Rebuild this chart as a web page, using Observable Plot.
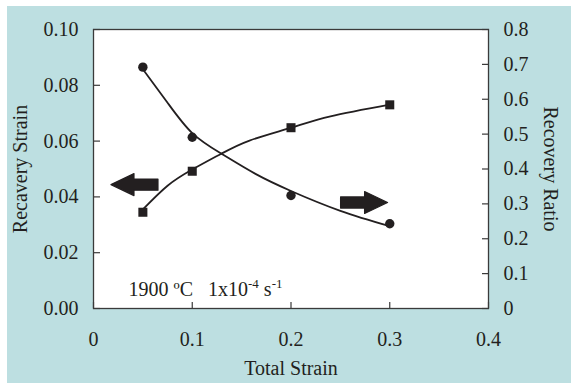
<!DOCTYPE html>
<html><head><meta charset="utf-8">
<script src="https://cdn.jsdelivr.net/npm/d3@7"></script>
<script src="https://cdn.jsdelivr.net/npm/@observablehq/plot@0.6"></script>
<style>
body{margin:0;background:#fff;width:571px;height:385px;overflow:hidden;position:relative;}
#bg{position:absolute;left:7px;top:6px;width:564px;height:377px;background:#bddfe1;}
#chart{position:absolute;left:0;top:0;}
#chart svg, #chart svg text{font-family:"Liberation Serif","Times New Roman",serif !important;font-size:20px;}
#chart svg tspan.sup{font-size:13px;}
</style></head><body><div id="bg"></div><div id="chart"></div>
<script>
// measured points
const totalStrain = [0.05, 0.1, 0.2, 0.3];
const recoveryStrain = [0.0345, 0.0492, 0.0648, 0.0730];
const recoveryRatio = [0.692, 0.491, 0.324, 0.243];
// trend curves
const fitStrainX = [0.05, 0.075, 0.1, 0.129, 0.158, 0.2, 0.24, 0.3];
const fitStrainY = [0.0355, 0.0440, 0.0498, 0.0554, 0.0602, 0.0648, 0.0689, 0.0731];
const fitRatioX = [0.05, 0.075, 0.1, 0.13, 0.164, 0.2, 0.25, 0.3];
const fitRatioY = [0.686, 0.590, 0.503, 0.443, 0.386, 0.337, 0.280, 0.236];
// ticks
const xTicks = [0, 0.1, 0.2, 0.3, 0.4];
const leftTicks = [0, 0.02, 0.04, 0.06, 0.08, 0.10];
const rightTicks = [0, 0.1, 0.2, 0.3, 0.4, 0.5, 0.6, 0.7, 0.8];
// labels & annotations
const xLabel = "Total Strain";
const leftLabel = "Recavery Strain";
const rightLabel = "Recovery Ratio";
const noteText = "1900 \u00baC   1x10-4 s-1";
const noteX = [0.0354], noteY = [0.0046];
const leftArrowX = [0.0415], leftArrowY = [0.0444];
const rightArrowX = [0.274], rightArrowY = [0.0380];

const ratioScale = 0.1 / 0.8;
const ink = "#231f20";
const axisInk = "#3a3a3a";

const strainPts = totalStrain.map((x, i) => ({x, y: recoveryStrain[i]}));
const ratioPts = totalStrain.map((x, i) => ({x, y: recoveryRatio[i] * ratioScale}));
const strainFit = fitStrainX.map((x, i) => ({x, y: fitStrainY[i]}));
const ratioFit = fitRatioX.map((x, i) => ({x, y: fitRatioY[i] * ratioScale}));
const rightTickPos = rightTicks.map(r => r * ratioScale);

const arrowSymbol = {
  draw(ctx, size) {
    ctx.moveTo(-23.5, -5.6);
    ctx.lineTo(0.5, -5.6);
    ctx.lineTo(0.5, -11);
    ctx.lineTo(23.5, 0);
    ctx.lineTo(0.5, 11);
    ctx.lineTo(0.5, 5.6);
    ctx.lineTo(-23.5, 5.6);
    ctx.closePath();
  }
};

const fmtX = d => d === 0 ? "0" : d3.format(".1f")(d);
const fmtL = d => d3.format(".2f")(d);
const fmtR = d => { const r = Math.round(d / ratioScale * 10) / 10; return r === 0 ? "0" : d3.format(".1f")(r); };

const chart = Plot.plot({
  width: 571, height: 385,
  marginLeft: 93, marginRight: 83, marginTop: 29, marginBottom: 77,
  style: {background: "transparent", fontFamily: "Liberation Serif, serif", fontSize: "20px", color: ink},
  x: {domain: [0, 0.4], label: null},
  y: {domain: [0, 0.1], label: null},
  marks: [
    Plot.frame({fill: "white"}),
    // inward ticks
    Plot.axisX(xTicks, {anchor: "bottom", tickSize: -6, tickFormat: () => "", stroke: axisInk, strokeWidth: 1.2, label: null}),
    Plot.axisY(leftTicks, {anchor: "left", tickSize: -7, tickFormat: () => "", stroke: axisInk, strokeWidth: 1.2, label: null}),
    Plot.axisY(rightTickPos, {anchor: "right", tickSize: -7, tickFormat: () => "", stroke: axisInk, strokeWidth: 1.2, label: null}),
    // tick labels
    Plot.axisX(xTicks, {anchor: "bottom", tickSize: 0, tickPadding: 23, tickFormat: fmtX, fill: ink, label: null}),
    Plot.axisY(leftTicks, {anchor: "left", tickSize: 0, tickPadding: 15, tickFormat: fmtL, fill: ink, label: null}),
    Plot.axisY(rightTickPos, {anchor: "right", tickSize: 0, tickPadding: 15, tickFormat: fmtR, fill: ink, label: null}),
    // axis titles
    Plot.text([xLabel], {text: d => d, frameAnchor: "bottom", dy: 60, textAnchor: "middle", lineAnchor: "middle", fill: ink}),
    Plot.text([leftLabel], {text: d => d, frameAnchor: "left", dx: -73, rotate: -90, textAnchor: "middle", lineAnchor: "middle", fill: ink}),
    Plot.text([rightLabel], {text: d => d, frameAnchor: "right", dx: 62, rotate: 90, textAnchor: "middle", lineAnchor: "middle", fill: ink}),
    // curves
    Plot.line(strainFit, {x: "x", y: "y", curve: "natural", stroke: ink, strokeWidth: 1.8}),
    Plot.line(ratioFit, {x: "x", y: "y", curve: "natural", stroke: ink, strokeWidth: 1.8}),
    // points
    Plot.dot(strainPts, {x: "x", y: "y", symbol: "square", r: 5.1, fill: ink, stroke: "none"}),
    Plot.dot(ratioPts, {x: "x", y: "y", r: 4.7, fill: ink, stroke: "none"}),
    // arrows
    Plot.dot(leftArrowX.map((x, i) => ({x, y: leftArrowY[i]})), {x: "x", y: "y", symbol: arrowSymbol, rotate: 180, fill: ink, stroke: ink, strokeWidth: 1.2, strokeLinejoin: "round"}),
    Plot.dot(rightArrowX.map((x, i) => ({x, y: rightArrowY[i]})), {x: "x", y: "y", symbol: arrowSymbol, rotate: 0, fill: ink, stroke: ink, strokeWidth: 1.2, strokeLinejoin: "round"}),
    // annotation
    Plot.text(noteX.map((x, i) => ({x, y: noteY[i]})), {x: "x", y: "y", text: () => noteText, textAnchor: "start", lineAnchor: "bottom", fill: ink}),
    Plot.frame({stroke: axisInk, strokeWidth: 1.3})
  ]
});
document.getElementById("chart").appendChild(chart);

// superscripts in the annotation
const note = Array.from(chart.querySelectorAll("text")).find(t => t.textContent === noteText);
if (note) {
  while (note.firstChild) note.removeChild(note.firstChild);
  note.style.whiteSpace = "pre";
  const parts = [["1900 \u00baC   1x10", 0, false], ["-4", -8, true], [" s", 8, false], ["-1", -8, true]];
  for (const [t, dy, sup] of parts) {
    const ts = document.createElementNS("http://www.w3.org/2000/svg", "tspan");
    ts.textContent = t;
    if (dy) ts.setAttribute("dy", dy);
    if (sup) ts.setAttribute("class", "sup");
    note.appendChild(ts);
  }
}
</script>
</body></html>
